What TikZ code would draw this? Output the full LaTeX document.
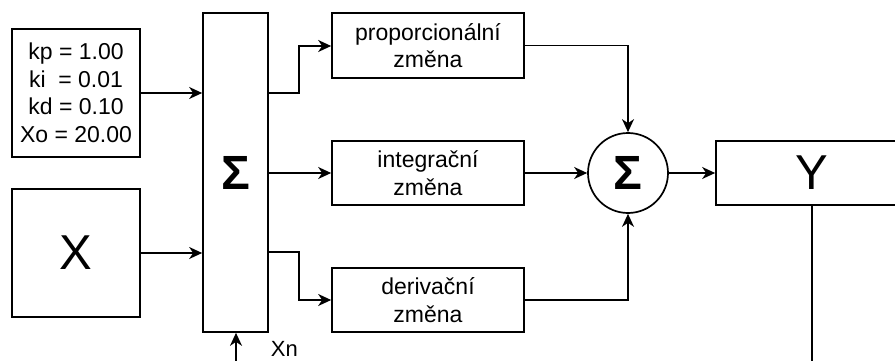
\documentclass[tikz,border=0pt]{standalone}
\usepackage{fontspec}
\setmainfont{Liberation Sans}
\usetikzlibrary{arrows.meta}
\begin{document}
\begin{tikzpicture}[x=1pt,y=-1pt, line width=1.7pt,
  box/.style={draw, rectangle, inner sep=0pt, align=center,
    font=\fontsize{23}{27.5}\selectfont},
  arr/.style={-{Stealth[length=13pt,width=12pt,inset=4pt]}},
  big/.style={font=\fontsize{49}{50}\selectfont},
  sig/.style={font=\bfseries\fontsize{48}{50}\selectfont}]
\useasboundingbox (0,0) rectangle (895,361);
\clip (0,0) rectangle (895,361);
\node[box, minimum width=128pt, minimum height=128pt] (par) at (76,93)
  {kp = 1.00\\ki~ = 0.01\\kd = 0.10\\Xo = 20.00};
\node[box, minimum width=128pt, minimum height=128pt, big] (x) at (76,253) {X};
\node[box, minimum width=65pt, minimum height=319pt, sig] (s) at (235.5,172.5) {Σ};
\node[box, minimum width=192pt, minimum height=65pt] (p) at (428,45.5) {proporcionální\\změna};
\node[box, minimum width=192pt, minimum height=64pt] (i) at (428,173) {integrační\\změna};
\node[box, minimum width=192pt, minimum height=64pt] (d) at (428,300) {derivační\\změna};
\node[draw, circle, minimum size=80pt, inner sep=0pt, sig] (c) at (628,173) {Σ};
\node[box, minimum width=192pt, minimum height=64pt, big] (y) at (812,173) {Y};
\coordinate (xn) at (236,370);
\coordinate (yend) at (812,370);
\node[anchor=base west, font=\fontsize{22}{27}\selectfont, inner sep=0pt] (xnl) at (270,356) {Xn};

\draw[arr] (par.east) -- (par.east -| s.west);
\draw[arr] (x.east) -- (x.east -| s.west);
\draw[arr] (s.east |- 0,93) -- (299,93) -- (299,46) -- (p.west |- 0,46);
\draw[arr] (s.east |- i.west) -- (i.west);
\draw[arr] (s.east |- 0,252) -- (299,252) -- (299,300) -- (d.west);
\draw[arr] (p.east) -| (c.north);
\draw[arr] (i.east) -- (c.west);
\draw[arr] (d.east) -| (c.south);
\draw[arr] (c.east) -- (y.west);
\draw[arr] (xn) -- (xn |- s.south);
\draw (y.south) -- (yend);
\end{tikzpicture}
\end{document}
